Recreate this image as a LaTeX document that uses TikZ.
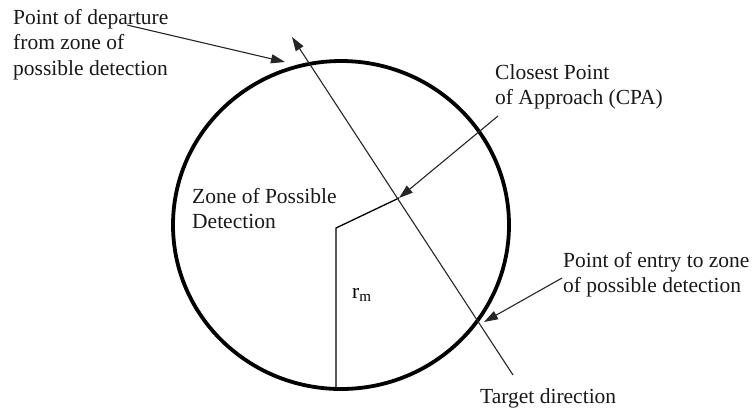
\documentclass[tikz,border=0pt]{standalone}
\usepackage{fontspec}
\setmainfont{Liberation Serif}
\usetikzlibrary{
    arrows.meta,
    shapes.geometric
}

\begin{document}
\begin{tikzpicture}[
    x=1pt,
    y=-1pt,
    every node/.style={
        font=\fontsize{21.5pt}{25.5pt}\selectfont
    },
    zone/.style={
        ellipse,
        draw=black,
        line width=3.8pt,
        minimum width=336pt,
        minimum height=328pt,
        inner sep=0pt
    },
    caption/.style={
        anchor=north west,
        align=left,
        inner sep=0pt,
        text=black!90
    },
    pointer/.style={
        -{Triangle[length=14pt,width=9pt]},
        line width=1.1pt,
        draw=black!85
    },
    radiusline/.style={
        line width=1.3pt,
        draw=black
    }
]

\useasboundingbox[fill=white] (0,0) rectangle (754,408);

% ==========================================================
% Zone of possible detection
% ==========================================================
\node[zone] (zone) at (341,225) {};

\node[caption] (zonelabel) at (192,188) {
    Zone of Possible\\
    Detection
};

% ==========================================================
% Points on the zone and target track
% ==========================================================
\coordinate (centre)    at (336,228);
\coordinate (bottom)    at (336,390);
\coordinate (cpa)       at (399,198);
\coordinate (departure) at (285,62);
\coordinate (entry)     at (484,322);
\coordinate (trackend)  at (292,37);
\coordinate (trackstart) at (513,375);

% radius to the closest point of approach
\draw[radiusline] (bottom) -- (centre) -- (cpa);

\node[anchor=base west, inner sep=0pt] (rmlabel) at (352,298) {
    r\textsubscript{m}
};

% target track
\draw[pointer] (trackstart) -- (trackend);

\node[caption] (targetlabel) at (480,388) {
    Target direction
};

% ==========================================================
% Labels with pointers
% ==========================================================
\node[caption] (deplabel) at (13,9) {
    Point of departure\\
    from zone of\\
    possible detection
};

\node[caption] (cpalabel) at (495,64) {
    Closest Point\\
    of Approach (CPA)
};

\node[caption] (entrylabel) at (563,252) {
    Point of entry to zone\\
    of possible detection
};

\coordinate (depfrom)   at (127,25);
\coordinate (cpafrom)   at (498,116);
\coordinate (entryfrom) at (562,278);

\draw[pointer] (depfrom) -- (departure);
\draw[pointer] (cpafrom) -- (cpa);
\draw[pointer] (entryfrom) -- (entry);

\end{tikzpicture}
\end{document}
